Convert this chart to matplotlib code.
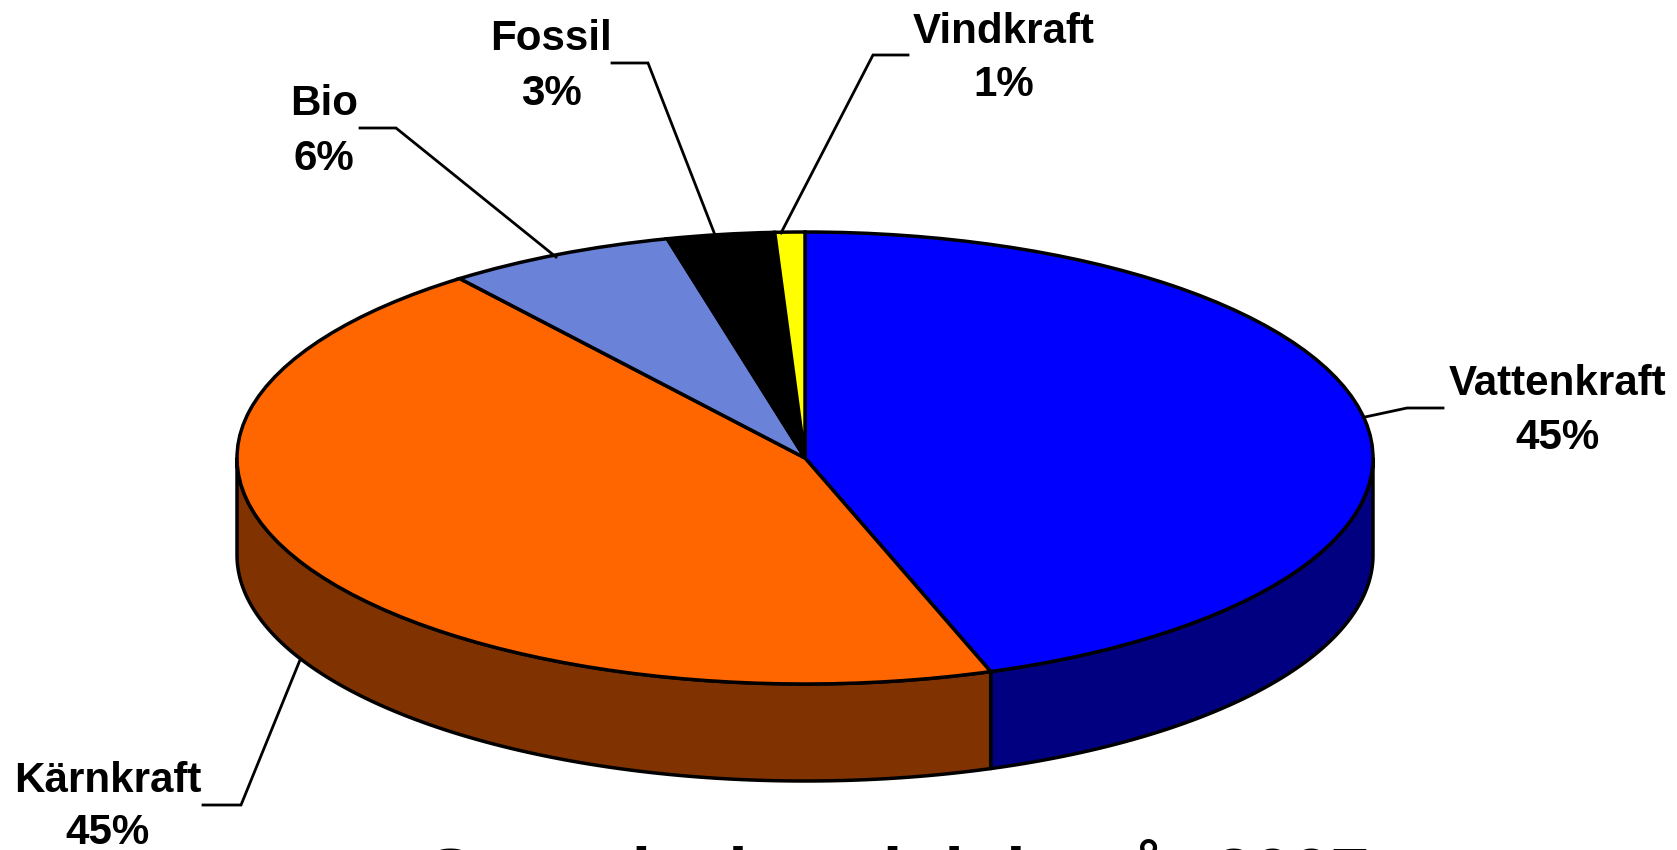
import numpy as np
import matplotlib
matplotlib.use("Agg")
import matplotlib.pyplot as plt

# Slices, clockwise from 12 o'clock
names = ["Vattenkraft", "Kärnkraft", "Bio", "Fossil", "Vindkraft"]
shares = [44.7, 44.9, 6.5, 3.05, 0.85]
percent_labels = ["45%", "45%", "6%", "3%", "1%"]
top_colors = ["#0000FF", "#FF6600", "#6A82D8", "#000000", "#FFFF00"]
side_colors = ["#000080", "#803300", "#35416C", "#000000", "#808000"]

title = "Svensk elproduktion år 2007"

W, H = 1677, 850
CX, CY, RX, RY = 805, 458, 568, 226
DEPTH = 97 / RY

plt.rcParams["font.family"] = ["Liberation Sans", "DejaVu Sans"]
plt.rcParams["font.weight"] = "bold"

fig = plt.figure(figsize=(W / 100, H / 100), dpi=100, facecolor="white")

# pie axes: unit circle squeezed into the ellipse
ax = fig.add_axes([0, 0, 1, 1])
ax.pie(shares, colors=top_colors, startangle=90, counterclock=False, radius=1,
       wedgeprops={"edgecolor": "black", "linewidth": 2.5, "zorder": 3})
ax.set_aspect("auto")
ax.set_xlim((0 - CX) / RX, (W - CX) / RX)
ax.set_ylim((CY - H) / RY, CY / RY)
ax.axis("off")

# side wall, only the front half of the rim shows
edges = np.cumsum([0] + shares) / sum(shares) * 360
for i in range(len(shares)):
    a0 = max(edges[i], 90)
    a1 = min(edges[i + 1], 270)
    if a1 <= a0:
        continue
    t = np.radians(np.linspace(a0, a1, 200))
    x = np.sin(t)
    y = np.cos(t)
    ax.fill(np.r_[x, x[::-1]], np.r_[y, y[::-1] - DEPTH], facecolor=side_colors[i],
            edgecolor="black", linewidth=2.5, zorder=1, joinstyle="round")

# labels and leader lines in pixel coordinates
ov = fig.add_axes([0, 0, 1, 1])
ov.set_xlim(0, W)
ov.set_ylim(H, 0)
ov.axis("off")
ov.patch.set_alpha(0)

label_pos = [(1558, 384, 438), (108, 781, 833), (324, 104, 159), (551, 39, 94), (1004, 32, 85)]
leaders = [
    [(1443, 408), (1407, 408), (1365, 417)],
    [(203, 805), (241, 805), (300, 660)],
    [(360, 128), (396, 128), (556, 257)],
    [(612, 63), (648, 63), (715, 235)],
    [(908, 55), (873, 55), (781, 233)],
]
for i, (lx, y1, y2) in enumerate(label_pos):
    ov.text(lx, y1, names[i], fontsize=30.3, ha="center", va="center")
    ov.text(lx, y2, percent_labels[i], fontsize=30.3, ha="center", va="center")
    xs, ys = zip(*leaders[i])
    ov.plot(xs, ys, color="black", linewidth=2.0, solid_joinstyle="miter")

ov.text(898, 896, title, fontsize=50, ha="center", va="baseline")

fig.savefig("out.png", dpi=100)
